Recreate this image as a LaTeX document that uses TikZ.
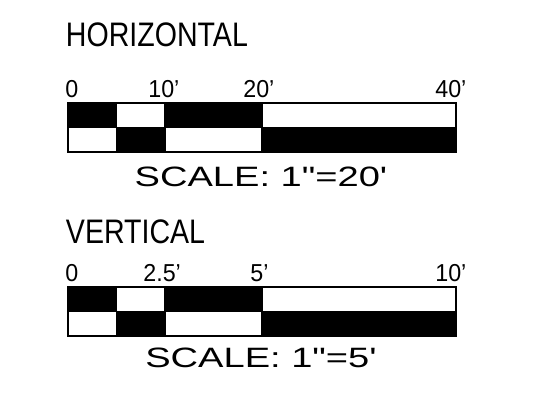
\documentclass[tikz,border=0pt]{standalone}
\usepackage{fontspec}
\setmainfont{Liberation Sans}

\begin{document}
\begin{tikzpicture}[x=1pt,y=1pt]
	\useasboundingbox (0,0) rectangle (556,403);
	\tikzset{
		title/.style={anchor=base west,font=\fontsize{34}{34}\selectfont,xscale=0.84,transform shape},
		tick/.style={anchor=base west,font=\fontsize{24.5}{25}\selectfont,xscale=0.95,transform shape},
		caption/.style={anchor=base,font=\fontsize{28}{28}\selectfont,xscale=1.36,transform shape},
		frame/.style={draw=black,line width=1.6pt}
	}
	\def\xa{68}
	\def\xb{116.5}
	\def\xc{165}
	\def\xd{262}
	\def\xe{456}
	\def\h{24.5}
	% titles
	\node[title] (htitle) at (63,356) {HORIZONTAL};
	\node[title] (vtitle) at (63,159) {VERTICAL};
	% tick labels
	\node[tick] (h0) at (62,305) {0};
	\node[tick] (h10) at (145,305) {10'};
	\node[tick] (h20) at (240,305) {20'};
	\node[tick] (h40) at (432,305) {40'};
	\node[tick] (v0) at (62,121) {0};
	\node[tick] (v25) at (140,121) {2.5'};
	\node[tick] (v5) at (247,121) {5'};
	\node[tick] (v10) at (432,121) {10'};
	% bars
	\foreach \y in {251,67}
	{
		\fill[black] (\xa,\y+\h) rectangle (\xb,\y+2*\h);
		\fill[black] (\xc,\y+\h) rectangle (\xd,\y+2*\h);
		\fill[black] (\xb,\y) rectangle (\xc,\y+\h);
		\fill[black] (\xd,\y) rectangle (\xe,\y+\h);
		\draw[frame] (\xa,\y) rectangle (\xe,\y+2*\h);
		\draw[frame] (\xa,\y+\h) -- (\xe,\y+\h);
		\foreach \x in {\xb,\xc,\xd}
		{
			\draw[frame] (\x,\y) -- (\x,\y+2*\h);
		}
	}
	% captions
	\node[caption] (hscale) at (261,216) {SCALE:\ 1\textquotedbl=20\textquotesingle};
	\node[caption] (vscale) at (261,35) {SCALE:\ 1\textquotedbl=5\textquotesingle};
\end{tikzpicture}
\end{document}
